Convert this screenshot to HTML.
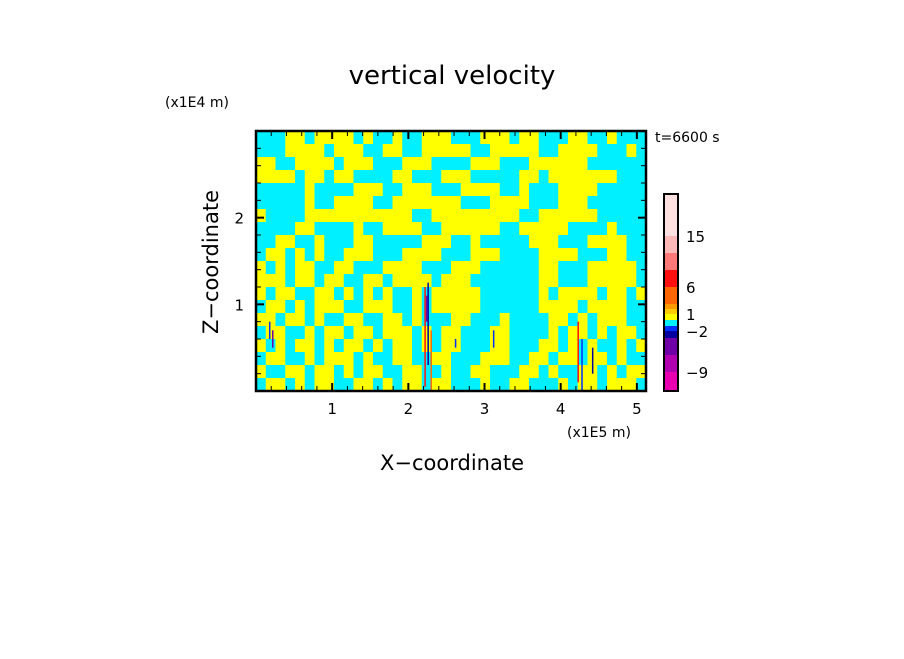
<!DOCTYPE html>
<html><head><meta charset="utf-8"><style>
body{margin:0;background:#fff;}
svg text{font-family:"DejaVu Sans","Liberation Sans",sans-serif;fill:#000;}
</style></head><body>
<svg id="chart" width="904" height="654" xmlns="http://www.w3.org/2000/svg">
<text x="452" y="84" font-size="26" text-anchor="middle">vertical velocity</text>
<text x="165" y="107" font-size="14">(x1E4 m)</text>
<text x="655" y="142" font-size="14">t=6600 s</text>
<text x="567" y="437" font-size="14">(x1E5 m)</text>
<text x="452" y="470" font-size="21" text-anchor="middle">X−coordinate</text>
<text transform="translate(218,262) rotate(-90)" font-size="21" text-anchor="middle">Z−coordinate</text>
<g id="field"></g>
<g id="spikes"></g>
<g id="axes"></g>
<g id="cbar"></g>
</svg>
<script>
const xTicks=[1,2,3,4,5];
const zTicks=[1,2];
const xMax=5.12, zMax=3.0;
const fieldRows=[
"cccyycyyyycyccyccyyycccyyycyycccyyccyccc",
"cccyyyycyyyccyyccyyyyyccyyyyyccyyyycccyc",
"yyccyyyycyyycccyyyccccyyycccyyyyyycccccc",
"yyyycyycyyccccyycccyyycccccyycyyyyyyyccc",
"cccccyccccyyyccyyycccyyyyccycccyyyyccccc",
"cccccyccyyyyccyyyyyyycccyyyycccyyycccccc",
"yccccyyyyyyyyyyyccyyyyyyyyyccyyyyyyccccc",
"ccccyyccccyccyyyyccyyyyyyccyyyyyccccyccc",
"ccyyccycccyycccccyyyccycccccyyycccyyyycc",
"cyycycyccyyycccyyyycccyyyccccyyyycccyycc",
"ycycyyccyycccyyyycccyyyccccccyycccyyyyyc",
"yyycyycyyccyycyyyycyyycccccccyycccyyyyyc",
"ycyyccyycycycyccycyyyyyccccccycyyyycyycy",
"cyycycyyyccyyyccycyyyyyccccccyyyycyyyycc",
"yycyycyccyyccyycycccyycccyccccyycycyyycc",
"cyyccycyycyycyyycycyycccyyccccycyycycyyc",
"ycycyycycyycycyycycyycccyycccyycycyccycy",
"cyyccycyyycyccyyccyycccyyyccyycyycyycycc",
"yccyycyycycyyccyyccyccyycccyycyccyycycyy",
"cyycycyyccyycycyycyycccyccyycccycyycyyyc"
];
const spikeX=[0.18,2.22,2.26,2.30,2.24,4.23,4.28,4.42,3.12,2.62,0.22];
const spikeZ0=[0.6,0.05,0.3,0.0,0.8,0.1,0.0,0.2,0.5,0.5,0.5];
const spikeZ1=[0.8,1.2,1.25,0.7,1.1,0.8,0.6,0.5,0.7,0.6,0.7];
const spikeColor=["#0030ff","#ff1010","#0000a0","#ff6600","#7000a8","#ff1010","#0030ff","#0000a0","#0030ff","#0030ff","#7000a8"];
const cbColors=["#e800b0","#b000b0","#7000a8","#0000a0","#0030ff","#00f0ff","#ffff00","#ffcc00","#ff9900","#ff6600","#ff1010","#ff7878","#ffb8b8","#ffe0e0"];
const cbHeights=[19,17,17,7,5,6,6,5,5,17,17,17,17,42];
const cbLabels=["−9","−2","1","6","15"];
const cbLabelAfter=[0,3,6,9,12];

const L=256,R=646,T=131,B=391;
const sx=v=>L+(v/xMax)*(R-L);
const sz=v=>B-(v/zMax)*(B-T);
const NS="http://www.w3.org/2000/svg";
function mk(t,a,p){const e=document.createElementNS(NS,t);for(const k in a)e.setAttribute(k,a[k]);p.appendChild(e);return e;}
const field=document.getElementById('field');
const nr=fieldRows.length, nc=40, cw=(R-L)/nc, ch=(B-T)/nr;
for(let r=0;r<nr;r++)for(let c=0;c<nc;c++){
  const ch_=fieldRows[r].charAt(c)||'c';
  const e=mk('rect',{x:L+c*cw,y:T+r*ch,width:cw+0.6,height:ch+0.6,fill:ch_==='y'?'#ffff00':'#00f0ff'},field);
  
  
}
const sp=document.getElementById('spikes');
spikeX.forEach((x,i)=>{
  const e=mk('rect',{x:sx(x)-0.75,y:sz(spikeZ1[i]),width:1.5,height:sz(spikeZ0[i])-sz(spikeZ1[i]),fill:spikeColor[i]},sp);
  
  
});
const ax=document.getElementById('axes');
mk('rect',{x:L,y:T,width:R-L,height:B-T,fill:'none',stroke:'#000','stroke-width':2.5},ax);
for(let v=0.2;v<xMax;v+=0.2){const x=sx(v),big=Math.abs(v-Math.round(v))<1e-6;const len=big?8:5;
  mk('line',{x1:x,y1:B,x2:x,y2:B-len,stroke:'#000','stroke-width':big?2:1},ax);
  mk('line',{x1:x,y1:T,x2:x,y2:T+len,stroke:'#000','stroke-width':big?2:1},ax);}
for(let v=0.2;v<zMax;v+=0.2){const y=sz(v),big=Math.abs(v-Math.round(v))<1e-6;const len=big?8:5;
  mk('line',{x1:L,y1:y,x2:L+len,y2:y,stroke:'#000','stroke-width':big?2:1},ax);
  mk('line',{x1:R,y1:y,x2:R-len,y2:y,stroke:'#000','stroke-width':big?2:1},ax);}
xTicks.forEach(v=>{const t=mk('text',{x:sx(v),y:414,'font-size':15,'text-anchor':'middle'},ax);t.textContent=v;
  
  });
zTicks.forEach(v=>{const t=mk('text',{x:244,y:sz(v)+6,'font-size':15,'text-anchor':'end'},ax);t.textContent=v;
  
  });
const cb=document.getElementById('cbar');
let y=391;const bounds=[];
cbColors.forEach((c,i)=>{y-=cbHeights[i];const e=mk('rect',{x:664,y:y,width:14,height:cbHeights[i],fill:c},cb);
  
  bounds.push(y);});
mk('rect',{x:664,y:y,width:14,height:391-y,fill:'none',stroke:'#000','stroke-width':2},cb);
cbLabels.forEach((s,i)=>{const yy=bounds[cbLabelAfter[i]];const t=mk('text',{x:686,y:yy+6,'font-size':15},cb);t.textContent=s;
  
  });
</script>
</body></html>
